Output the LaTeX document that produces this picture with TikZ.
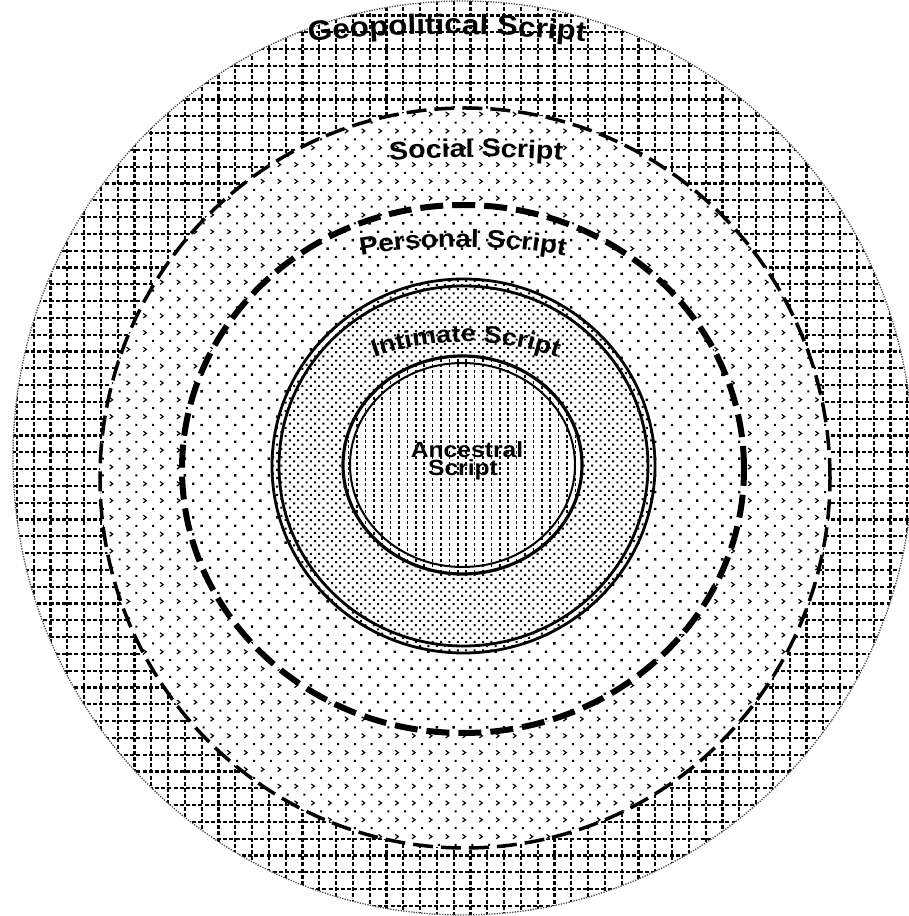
\documentclass[tikz,border=0pt]{standalone}
\usepackage{fontspec}
\newfontfamily\labfont[FakeStretch=1.12]{Liberation Sans}
\usetikzlibrary{decorations.text}
\begin{document}
\begin{tikzpicture}[x=1pt,y=1pt,
  gridline/.style={line width=2.2, dash pattern=on 4 off 2.2},
  arctext/.style={decorate, decoration={text along path, text align=center, text={#1}}},
  ringline/.style={line width=2.8}]
\useasboundingbox (0,0) rectangle (909,916);
% ---------- geopolitical region: dotted grid
\begin{scope}
\clip (463,458) ellipse[x radius=450, y radius=457];
\fill[white] (0,0) rectangle (909,916);
\draw[gridline] \foreach \i in {0,...,54} {({\i*16.8},0) -- ({\i*16.8},916)};
\draw[gridline] \foreach \j in {0,...,54} {(0,{10+\j*16.8}) -- (909,{10+\j*16.8})};
\end{scope}
% ---------- social region: chevrons and dots
\begin{scope}
\clip (465,438) ellipse[x radius=365, y radius=370];
\fill[white] (95,60) rectangle (835,815);
\draw[line width=1.2] \foreach \i in {5,...,49} {\foreach \j in {3,...,48} {({8.9+16.8*\i},{14.4+16.8*\j}) -- ++(3,-2.2) -- ++(-3,-2.2)}};
\fill \foreach \i in {5,...,49} {\foreach \j in {3,...,48} {({17.8+16.8*\i},{2.8+16.8*\j}) rectangle ++(2,2)}};
\end{scope}
% ---------- personal region: sparse dots
\begin{scope}
\clip (463,447) ellipse[x radius=281, y radius=264];
\fill[white] (180,180) rectangle (746,714);
\fill \foreach \i in {10,...,44} {\foreach \j in {10,...,42} {({7.2+16.8*\i},{11+16.8*\j}) rectangle ++(2.4,2.4)}};
\fill \foreach \i in {10,...,45} {\foreach \j in {10,...,42} {({-1.2+16.8*\i},{2.6+16.8*\j}) rectangle ++(2.4,2.4)}};
\end{scope}
% ---------- intimate region: dense dots
\begin{scope}
\clip (463.5,450) ellipse[x radius=191.5, y radius=187];
\fill[white] (270,260) rectangle (658,640);
\fill \foreach \i in {32,...,78} {\foreach \j in {31,...,76} {({8.4*\i-1},{8.4*\j}) rectangle ++(2,2) ({8.4*\i+3.2},{8.4*\j+4.2}) rectangle ++(2,2)}};
\end{scope}
% ---------- ancestral region: vertical dashed lines
\begin{scope}
\clip (462.5,451) ellipse[x radius=119.5, y radius=109];
\fill[white] (340,340) rectangle (585,562);
\draw[line width=1.5, dash pattern=on 3 off 2.4] \foreach \i in {40,...,69} {({4.2+8.4*\i},338) -- ({4.2+8.4*\i},564)};
\end{scope}
% ---------- borders
\draw[black!70, line width=1.3, dash pattern=on 1.3 off 1.3] (463,458) ellipse[x radius=450, y radius=457];
\draw[line width=3.5, dash pattern=on 20 off 8] (465,438) ellipse[x radius=365, y radius=370];
\draw[line width=6, dash pattern=on 23 off 9] (463,447) ellipse[x radius=281, y radius=264];
\draw[ringline] (463.5,450) ellipse[x radius=191.5, y radius=187];
\draw[ringline] (463.5,450) ellipse[x radius=184.5, y radius=180];
\draw[line width=3.2] (462.5,451) ellipse[x radius=119.5, y radius=109];
\draw[line width=2] (462.5,451) ellipse[x radius=112.5, y radius=102];
% ---------- labels
\path[arctext={|\labfont\bfseries\fontsize{28}{28}\selectfont|Geopolitical Script}, shift={(447,-318)}] (99:1200) arc[start angle=99, end angle=81, radius=1200];
\path[arctext={|\labfont\bfseries\fontsize{25.5}{25.5}\selectfont|Social Script}, shift={(476,-441)}] (98:1200) arc[start angle=98, end angle=82, radius=1200];
\path[arctext={|\labfont\bfseries\fontsize{25}{25}\selectfont|Personal Script}, shift={(463,69)}] (106:600) arc[start angle=106, end angle=74, radius=600];
\path[arctext={|\labfont\bfseries\fontsize{24}{24}\selectfont|Intimate Script}, shift={(466,294)}] (120:280) arc[start angle=120, end angle=60, radius=280];
\node[font=\labfont\bfseries\fontsize{22}{22}\selectfont, anchor=base, inner sep=0] (anc1) at (467,458) {Ancestral};
\node[font=\labfont\bfseries\fontsize{22}{22}\selectfont, anchor=base, inner sep=0] (anc2) at (463,440) {Script};
\end{tikzpicture}
\end{document}
